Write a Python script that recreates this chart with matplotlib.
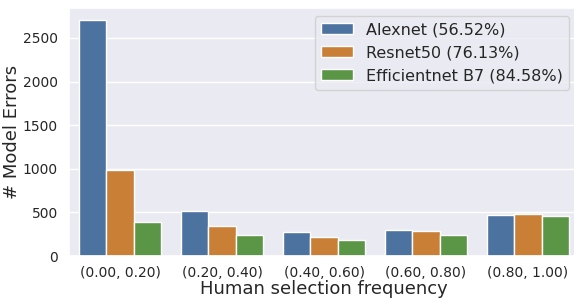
import numpy as np
import pandas as pd
import matplotlib
matplotlib.use('Agg')
import matplotlib.pyplot as plt
import seaborn as sns

bins = ['(0.00, 0.20)', '(0.20, 0.40)', '(0.40, 0.60)', '(0.60, 0.80)', '(0.80, 1.00)']
models = ['Alexnet (56.52%)', 'Resnet50 (76.13%)', 'Efficientnet B7 (84.58%)']
alexnet = [2703, 520, 271, 298, 466]
resnet50 = [990, 340, 222, 290, 485]
effnet_b7 = [394, 237, 187, 241, 455]
colors = ['#4c72a0', '#c98036', '#5a9646']

rows = []
for m, vals in zip(models, [alexnet, resnet50, effnet_b7]):
	for b, v in zip(bins, vals):
		rows.append({'bin': b, 'model': m, 'errors': v})
df = pd.DataFrame(rows)

sns.set_theme(style='darkgrid')
fig = plt.figure(figsize=(5.74, 2.99), dpi=100)
ax = fig.add_axes([69/574, (299-256)/299, 510/574, 248/299])
sns.barplot(data=df, x='bin', y='errors', hue='model', ax=ax, palette=colors, saturation=1)
ax.set_xlabel('Human selection frequency', fontsize=13, labelpad=0)
ax.set_ylabel('# Model Errors', fontsize=13)
ax.yaxis.set_label_coords(-0.094, 0.5)
ax.tick_params(axis='both', labelsize=10)
ax.tick_params(axis='x', pad=1)
ax.tick_params(axis='y', pad=2)
ax.set_yticks([0, 500, 1000, 1500, 2000, 2500])
ax.set_ylim(0, 2844)
ax.legend(loc='upper right', fontsize=11.5, bbox_to_anchor=(0.996, 1.0))
fig.savefig('out.png', dpi=100)
